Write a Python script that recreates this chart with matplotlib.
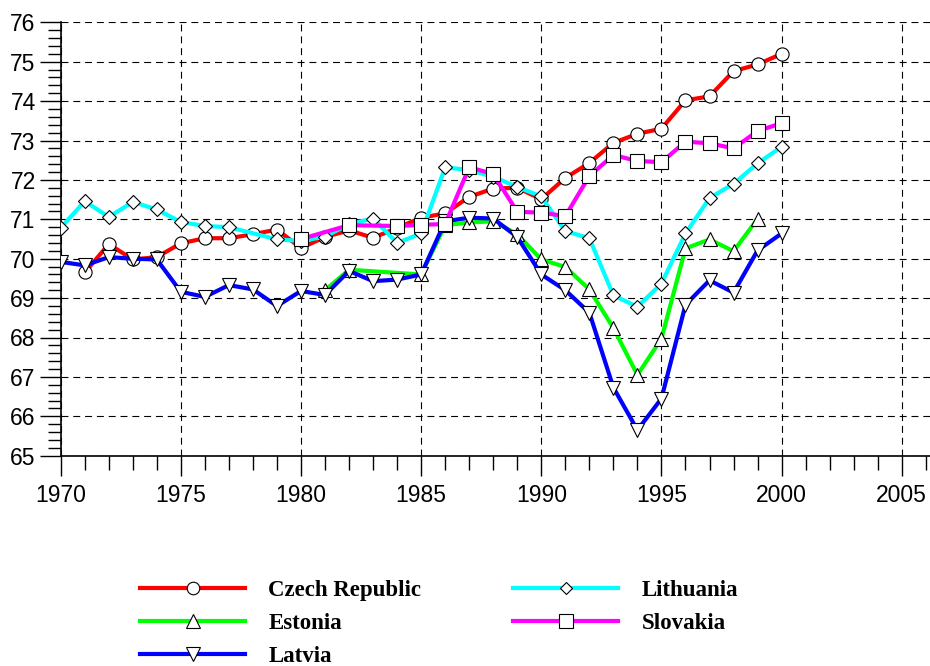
import matplotlib
matplotlib.use("Agg")
import matplotlib.pyplot as plt
from matplotlib.ticker import MultipleLocator

years = list(range(1970, 2001))

czech = [None, 69.65, 70.37, 69.98, 70.04, 70.39, 70.52, 70.52, 70.62, 70.74,
         70.27, 70.55, 70.72, 70.53, 70.78, 71.04, 71.15, 71.57, 71.78, 71.80,
         71.51, 72.05, 72.43, 72.94, 73.17, 73.30, 74.02, 74.12, 74.76, 74.93, 75.20]
estonia = [None] * 11 + [69.20, 69.72, None, None, 69.60, 70.85, 70.92, 70.95, 70.62,
                         69.98, 69.79, 69.22, 68.24, 67.05, 67.97, 70.26, 70.49, 70.19, 71.01, None]
latvia = [69.92, 69.83, 70.04, 70.00, 69.98, 69.16, 69.03, 69.33, 69.22, 68.80,
          69.18, 69.08, 69.69, 69.43, 69.47, 69.60, 70.95, 71.04, 71.02, 70.55,
          69.60, 69.20, 68.63, 66.73, 65.65, 66.45, 68.83, 69.45, 69.14, 70.21, 70.64]
lithuania = [70.78, 71.46, 71.06, 71.44, 71.25, 70.93, 70.83, 70.80, None, 70.49,
             70.45, 70.56, 70.88, 71.02, 70.40, 70.64, 72.32, 72.25, 72.08, 71.82,
             71.58, 70.70, 70.52, 69.07, 68.78, 69.37, 70.64, 71.54, 71.90, 72.42, 72.84]
slovakia = [None] * 10 + [70.50, None, 70.85, None, 70.83, 70.86, 70.88, 72.32, 72.15, 71.19,
                          71.17, 71.08, 72.10, 72.63, 72.48, 72.45, 72.97, 72.93, 72.80, 73.24, 73.44]

series = [
    ("Czech Republic", czech, "#FF0000", "o", 9.5),
    ("Estonia", estonia, "#00FF00", "^", 10),
    ("Latvia", latvia, "#0000FF", "v", 10),
    ("Lithuania", lithuania, "#00FFFF", "D", 6.8),
    ("Slovakia", slovakia, "#FF00FF", "s", 10),
]

plt.rcParams["lines.scale_dashes"] = False
fig = plt.figure(figsize=(9.3, 6.66), dpi=100)
ax = fig.add_axes([60.7 / 930, 1 - 455.7 / 666, 1 - 60.7 / 930, (455.7 - 22.3) / 666])

handles = []
for name, vals, color, mk, ms in series:
    xs = [y for y, v in zip(years, vals) if v is not None]
    ys = [v for v in vals if v is not None]
    h, = ax.plot(xs, ys, color=color, lw=3.0, marker=mk, ms=ms,
                 mfc="white", mec="black", mew=0.8, label=name, zorder=3)
    handles.append(h)

ax.set_xlim(1970, 1970 + (930 - 60.7) / 24.03)
ax.set_ylim(65, 76)
ax.xaxis.set_major_locator(MultipleLocator(5))
ax.xaxis.set_minor_locator(MultipleLocator(1))
ax.yaxis.set_major_locator(MultipleLocator(1))
ax.yaxis.set_minor_locator(MultipleLocator(0.2))

for s in ("top", "right"):
    ax.spines[s].set_visible(False)
for s in ("left", "bottom"):
    ax.spines[s].set_linewidth(1.2)
    ax.spines[s].set_color("black")

ax.grid(True, which="major", color="black", lw=0.8, linestyle=(0, (5, 3.5)))
ax.set_axisbelow(True)

tickfont = "Liberation Sans"
ax.tick_params(axis="both", which="major", direction="out", width=1.0, labelsize=16.5)
ax.tick_params(axis="y", which="major", length=15, pad=3)
ax.tick_params(axis="y", which="minor", length=9.5, width=1.0)
ax.tick_params(axis="x", which="major", length=14.5, pad=6)
ax.tick_params(axis="x", which="minor", length=10, width=1.0)
for lab in ax.get_xticklabels() + ax.get_yticklabels():
    lab.set_fontfamily(tickfont)

fig.legend(handles=handles, ncol=2, loc="upper left",
           bbox_to_anchor=(140 / 930, 1 - 580 / 666), frameon=False,
           prop={"family": "Liberation Serif", "weight": "bold", "size": 16.5},
           handlelength=4.6, handletextpad=1.0, columnspacing=4.0,
           labelspacing=0.53, borderpad=0, borderaxespad=0, markerscale=0.95)

fig.savefig("out.png", dpi=100)
